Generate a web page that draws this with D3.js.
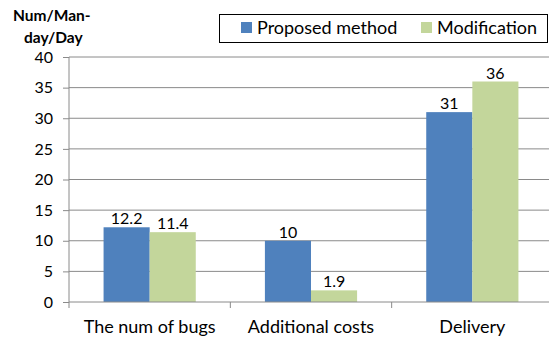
<!DOCTYPE html>
<html>
<head>
<meta charset="utf-8">
<script src="https://cdn.jsdelivr.net/npm/d3@7"></script>
<style>
  body { margin: 0; background: #fff; }
  text { font-family: Lato, "Open Sans", sans-serif; }
</style>
</head>
<body>
<div id="chart"></div>
<script>
// data
var categories = ["The num of bugs", "Additional costs", "Delivery"]
var seriesNames = ["Proposed method", "Modification"]
var proposed = [12.2, 10, 31]
var modification = [11.4, 1.9, 36]
var yTicks = [0, 5, 10, 15, 20, 25, 30, 35, 40]
var colors = ["#4f81bd", "#c3d69b"]

var W = 549, H = 340
var pLeft = 69, pRight = 553, pTop = 57, pBottom = 302

var svg = d3.select("#chart")
  .append("svg")
    .attr("width", W)
    .attr("height", H)

var x = d3.scaleBand()
  .domain(categories)
  .range([pLeft, pRight])

// excel-ish gap width 150%
var barW = x.bandwidth() / 3.5
var x1 = d3.scaleBand()
  .domain(seriesNames)
  .range([barW * 0.75, barW * 2.75])

var y = d3.scaleLinear()
  .domain([0, 40])
  .range([pBottom, pTop])

// gridlines
svg.append("g")
  .selectAll("line")
  .data(yTicks.filter(d => d > 0))
  .join("line")
    .attr("x1", pLeft)
    .attr("x2", W)
    .attr("y1", d => y(d))
    .attr("y2", d => y(d))
    .attr("stroke", "#8a8a8a")
    .attr("stroke-width", 1)

// bars
var values = [proposed, modification]
seriesNames.forEach(function (s, si) {
  var g = svg.append("g")
  g.selectAll("rect")
    .data(categories)
    .join("rect")
      .attr("x", (c) => x(c) + x1(s))
      .attr("width", x1.bandwidth())
      .attr("y", (c, i) => y(values[si][i]))
      .attr("height", (c, i) => y(0) - y(values[si][i]))
      .attr("fill", colors[si])
  g.selectAll("text")
    .data(categories)
    .join("text")
      .attr("x", (c) => x(c) + x1(s) + x1.bandwidth() / 2)
      .attr("y", (c, i) => y(values[si][i]) - 3)
      .attr("text-anchor", "middle")
      .attr("font-size", 16)
      .attr("fill", "#000")
      .text((c, i) => values[si][i])
})

// y axis
var yAxis = svg.append("g")
  .attr("transform", "translate(" + pLeft + ",0)")
  .call(d3.axisLeft(y).tickValues(yTicks).tickSize(6).tickPadding(10))
yAxis.select(".domain").attr("stroke", "#8a8a8a").attr("d", "M0," + pTop + "V" + pBottom)
yAxis.selectAll(".tick line").attr("stroke", "#8a8a8a")
yAxis.selectAll(".tick text")
  .attr("font-size", 16)
  .attr("font-family", "Lato, sans-serif")
  .attr("fill", "#000")

// x axis
svg.append("line")
  .attr("x1", pLeft).attr("x2", W)
  .attr("y1", pBottom).attr("y2", pBottom)
  .attr("stroke", "#8a8a8a")
svg.append("g")
  .selectAll("line")
  .data(categories)
  .join("line")
    .attr("x1", c => x(c))
    .attr("x2", c => x(c))
    .attr("y1", pBottom)
    .attr("y2", pBottom + 6)
    .attr("stroke", "#8a8a8a")
svg.append("g")
  .selectAll("text")
  .data(categories)
  .join("text")
    .attr("x", c => x(c) + x.bandwidth() / 2)
    .attr("y", 333)
    .attr("text-anchor", "middle")
    .attr("font-size", 18)
    .text(c => c)

// y title
svg.append("text")
  .attr("x", 13).attr("y", 21)
  .attr("font-size", 15.5).attr("font-weight", "bold")
  .text("Num/Man-")
svg.append("text")
  .attr("x", 24).attr("y", 43)
  .attr("font-size", 15.5).attr("font-weight", "bold")
  .text("day/Day")

// legend
var lg = svg.append("g")
lg.append("rect")
  .attr("x", 219.5).attr("y", 14.5)
  .attr("width", 328).attr("height", 28)
  .attr("fill", "#fff")
  .attr("stroke", "#000")
  .attr("stroke-width", 1)
var legX = [241, 421]
seriesNames.forEach(function (s, i) {
  lg.append("rect")
    .attr("x", legX[i]).attr("y", 22)
    .attr("width", 11).attr("height", 11)
    .attr("fill", colors[i])
  lg.append("text")
    .attr("x", legX[i] + 16).attr("y", 34)
    .attr("font-size", 18)
    .text(s)
})
</script>
</body>
</html>
